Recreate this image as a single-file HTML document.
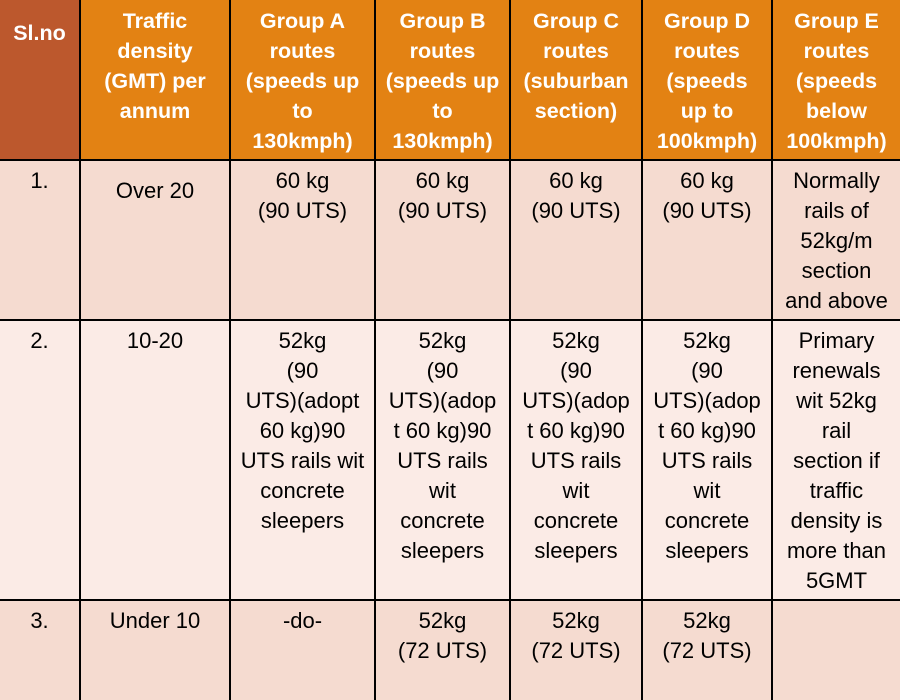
<!DOCTYPE html>
<html><head><meta charset="utf-8"><style>
body{margin:0;width:900px;height:700px;overflow:hidden;background:#000;font-family:"Liberation Sans",sans-serif;}
.c{position:absolute;box-sizing:border-box;text-align:center;white-space:nowrap;line-height:30px;padding-top:5px;font-size:22px;color:#000;}
.h{background:#E38213;color:#fff;font-weight:bold;font-size:21.5px;padding-top:6px;}
.r1,.r3{background:#F5DBD0;}
.r2{background:#FBEBE6;}
</style></head><body>
<div class="c h" style="left:0;top:0;width:79px;height:159px;background:#BC582D;padding-top:18px">Sl.no</div>
<div class="c h" style="left:81px;top:0;width:148px;height:159px">Traffic<br>density<br>(GMT) per<br>annum</div>
<div class="c h" style="left:231px;top:0;width:143px;height:159px">Group A<br>routes<br>(speeds up<br>to<br>130kmph)</div>
<div class="c h" style="left:376px;top:0;width:133px;height:159px">Group B<br>routes<br>(speeds up<br>to<br>130kmph)</div>
<div class="c h" style="left:511px;top:0;width:130px;height:159px">Group C<br>routes<br>(suburban<br>section)</div>
<div class="c h" style="left:643px;top:0;width:128px;height:159px">Group D<br>routes<br>(speeds<br>up to<br>100kmph)</div>
<div class="c h" style="left:773px;top:0;width:127px;height:159px">Group E<br>routes<br>(speeds<br>below<br>100kmph)</div>

<div class="c r1" style="left:0;top:161px;width:79px;height:158px">1.</div>
<div class="c r1" style="left:81px;top:161px;width:148px;height:158px;padding-top:15px">Over 20</div>
<div class="c r1" style="left:231px;top:161px;width:143px;height:158px">60 kg<br>(90 UTS)</div>
<div class="c r1" style="left:376px;top:161px;width:133px;height:158px">60 kg<br>(90 UTS)</div>
<div class="c r1" style="left:511px;top:161px;width:130px;height:158px">60 kg<br>(90 UTS)</div>
<div class="c r1" style="left:643px;top:161px;width:128px;height:158px">60 kg<br>(90 UTS)</div>
<div class="c r1" style="left:773px;top:161px;width:127px;height:158px">Normally<br>rails of<br>52kg/m<br>section<br>and above</div>

<div class="c r2" style="left:0;top:321px;width:79px;height:278px">2.</div>
<div class="c r2" style="left:81px;top:321px;width:148px;height:278px">10-20</div>
<div class="c r2" style="left:231px;top:321px;width:143px;height:278px">52kg<br>(90<br>UTS)(adopt<br>60 kg)90<br>UTS rails wit<br>concrete<br>sleepers</div>
<div class="c r2" style="left:376px;top:321px;width:133px;height:278px">52kg<br>(90<br>UTS)(adop<br>t 60 kg)90<br>UTS rails<br>wit<br>concrete<br>sleepers</div>
<div class="c r2" style="left:511px;top:321px;width:130px;height:278px">52kg<br>(90<br>UTS)(adop<br>t 60 kg)90<br>UTS rails<br>wit<br>concrete<br>sleepers</div>
<div class="c r2" style="left:643px;top:321px;width:128px;height:278px">52kg<br>(90<br>UTS)(adop<br>t 60 kg)90<br>UTS rails<br>wit<br>concrete<br>sleepers</div>
<div class="c r2" style="left:773px;top:321px;width:127px;height:278px">Primary<br>renewals<br>wit 52kg<br>rail<br>section if<br>traffic<br>density is<br>more than<br>5GMT</div>

<div class="c r3" style="left:0;top:601px;width:79px;height:99px">3.</div>
<div class="c r3" style="left:81px;top:601px;width:148px;height:99px">Under 10</div>
<div class="c r3" style="left:231px;top:601px;width:143px;height:99px">-do-</div>
<div class="c r3" style="left:376px;top:601px;width:133px;height:99px">52kg<br>(72 UTS)</div>
<div class="c r3" style="left:511px;top:601px;width:130px;height:99px">52kg<br>(72 UTS)</div>
<div class="c r3" style="left:643px;top:601px;width:128px;height:99px">52kg<br>(72 UTS)</div>
<div class="c r3" style="left:773px;top:601px;width:127px;height:99px"></div>
</body></html>
